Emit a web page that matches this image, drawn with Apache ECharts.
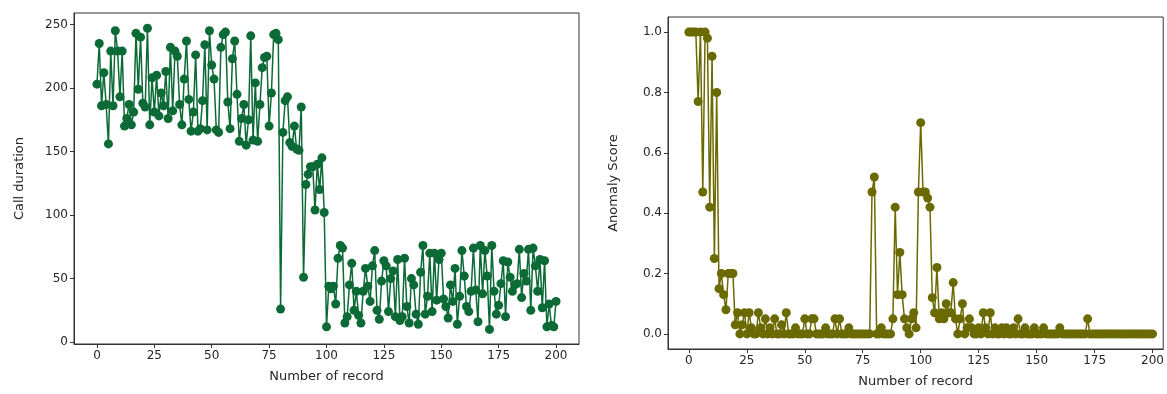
<!DOCTYPE html>
<html>
<head>
<meta charset="utf-8">
<script src="https://cdn.jsdelivr.net/npm/echarts@6/dist/echarts.min.js"></script>
<style>
  html, body { margin: 0; padding: 0; background: #ffffff; }
  #chart { width: 1167px; height: 394px; }
</style>
</head>
<body>
<div id="chart"></div>
<script>
// call duration per record (0..200)
var callDuration = [
  203, 235, 186, 212, 187, 156, 229, 186, 245, 229,
  193, 229, 170, 176, 187, 171, 181, 243, 199, 240,
  188, 185, 247, 171, 208, 181, 210, 178, 196, 186,
  213, 176, 232, 182, 229, 225, 187, 171, 207, 237,
  191, 166, 181, 226, 166, 168, 190, 234, 167, 245,
  218, 207, 167, 165, 232, 242, 244, 189, 168, 223,
  237, 195, 158, 176, 187, 155, 175, 241, 159, 204,
  158, 187, 216, 224, 225, 170, 196, 242, 243, 238,
  26, 165, 190, 193, 157, 154, 170, 152, 151, 185,
  51, 124, 132, 138, 138, 104, 140, 120, 145, 102,
  12,
  44, 42, 44, 30, 66, 76, 74, 15, 20, 45,
  62, 25, 40, 21, 15, 40, 58, 44, 32, 60,
  72, 25, 18, 48, 64, 60, 24, 50, 56, 20,
  65, 17, 20, 66, 28, 15, 50, 45, 22, 14,
  55, 76, 22, 36, 70, 24, 70, 33, 65, 70,
  34, 28, 19, 45, 32, 58, 14, 36, 72, 52,
  28, 24, 40, 74, 41, 16, 76, 38, 72, 52,
  10, 76, 40, 22, 29, 46, 64, 20, 63, 51,
  40, 45, 46, 73, 35, 54, 48, 73, 25, 74,
  60, 40, 65, 27, 64, 12, 30, 13, 12, 32
]

// anomaly score per record (0..200)
var anomalyScore = [
  1.0, 1.0, 1.0, 1.0, 0.77, 1.0, 0.47, 1.0, 0.98, 0.42,
  0.92, 0.25, 0.80, 0.15, 0.20, 0.13, 0.08, 0.20, 0.20, 0.20,
  0.03, 0.07, 0.0, 0.03, 0.07, 0.0, 0.07, 0.02, 0.0, 0.0,
  0.07, 0.02, 0.0, 0.05, 0.0, 0.02, 0.0, 0.05, 0.0, 0.0,
  0.03, 0.0, 0.07, 0.0, 0.0, 0.0, 0.02, 0.0, 0.0, 0.0,
  0.05, 0.0, 0.0, 0.05, 0.05, 0.0, 0.0, 0.0, 0.0, 0.02,
  0.0, 0.0, 0.0, 0.05, 0.0, 0.05, 0.0, 0.0, 0.0, 0.02,
  0.0, 0.0, 0.0, 0.0, 0.0, 0.0, 0.0, 0.0, 0.0, 0.47,
  0.52, 0.0, 0.0, 0.02, 0.0, 0.0, 0.0, 0.0, 0.05, 0.42,
  0.13, 0.27, 0.13, 0.05, 0.02, 0.0, 0.05, 0.07, 0.02, 0.47,
  0.70, 0.47, 0.47, 0.45, 0.42, 0.12, 0.07, 0.22, 0.05, 0.07,
  0.05, 0.10, 0.07, 0.07, 0.17, 0.05, 0.0, 0.05, 0.10, 0.0,
  0.02, 0.05, 0.02, 0.0, 0.0, 0.02, 0.0, 0.07, 0.02, 0.0,
  0.07, 0.0, 0.02, 0.0, 0.0, 0.02, 0.0, 0.02, 0.0, 0.0,
  0.02, 0.0, 0.05, 0.0, 0.0, 0.02, 0.0, 0.0, 0.0, 0.02,
  0.0, 0.0, 0.0, 0.02, 0.0, 0.0, 0.0, 0.0, 0.0, 0.0,
  0.02, 0.0, 0.0, 0.0, 0.0, 0.0, 0.0, 0.0, 0.0, 0.0,
  0.0, 0.0, 0.05, 0.0, 0.0, 0.0, 0.0, 0.0, 0.0, 0.0,
  0.0, 0.0, 0.0, 0.0, 0.0, 0.0, 0.0, 0.0, 0.0, 0.0,
  0.0, 0.0, 0.0, 0.0, 0.0, 0.0, 0.0, 0.0, 0.0, 0.0,
  0.0
]

var xTicks = [0, 25, 50, 75, 100, 125, 150, 175, 200]
var callTicks = [0, 50, 100, 150, 200, 250]
var scoreTicks = [0, 0.2, 0.4, 0.6, 0.8, 1.0]

function pairs(arr) {
  return arr.map(function(v, i) { return [i, v] })
}

var txt = { color: '#262626', fontSize: 12, fontFamily: 'DejaVu Sans' }

function xAx(idx, min, max) {
  return {
    type: 'value', gridIndex: idx, min: min, max: max,
    name: 'Number of record', nameLocation: 'middle', nameGap: 26,
    nameTextStyle: { color: '#262626', fontSize: 13, fontFamily: 'DejaVu Sans' },
    axisLine: { show: true, onZero: false, lineStyle: { color: '#333', width: 1 } },
    axisTick: { show: true, length: 4, customValues: xTicks, lineStyle: { color: '#333' } },
    axisLabel: Object.assign({ customValues: xTicks, margin: 6 }, txt),
    splitLine: { show: false }
  }
}

function yAx(idx, name, min, max, ticks, fmt) {
  return {
    type: 'value', gridIndex: idx, min: min, max: max,
    name: name, nameLocation: 'middle', nameGap: 48,
    nameTextStyle: { color: '#262626', fontSize: 13, fontFamily: 'DejaVu Sans' },
    axisLine: { show: true, onZero: false, lineStyle: { color: '#333', width: 1 } },
    axisTick: { show: true, length: 4, customValues: ticks, lineStyle: { color: '#333' } },
    axisLabel: Object.assign({ customValues: ticks, margin: 6, formatter: fmt }, txt),
    splitLine: { show: false }
  }
}

var chart = echarts.init(document.getElementById('chart'), null, { renderer: 'canvas' })
chart.setOption({
  backgroundColor: '#ffffff',
  animation: false,
  grid: [
    { left: 74, top: 13, width: 505, height: 331, show: true, borderColor: '#333', borderWidth: 1 },
    { left: 668, top: 17, width: 498, height: 332, show: true, borderColor: '#333', borderWidth: 1 }
  ],
  xAxis: [xAx(0, -10, 210), xAx(1, -9, 204.6)],
  yAxis: [
    yAx(0, 'Call duration', -1.5, 259, callTicks, function(v) { return String(v) }),
    yAx(1, 'Anomaly Score', -0.05, 1.05, scoreTicks, function(v) { return v.toFixed(1) })
  ],
  series: [
    {
      type: 'line', xAxisIndex: 0, yAxisIndex: 0,
      data: pairs(callDuration),
      symbol: 'circle', symbolSize: 9,
      itemStyle: { color: '#0b6a35' },
      lineStyle: { color: '#0b6a35', width: 1.5 }
    },
    {
      type: 'line', xAxisIndex: 1, yAxisIndex: 1,
      data: pairs(anomalyScore),
      symbol: 'circle', symbolSize: 9,
      itemStyle: { color: '#6b6a00' },
      lineStyle: { color: '#6b6a00', width: 1.5 }
    }
  ]
})
</script>
</body>
</html>
